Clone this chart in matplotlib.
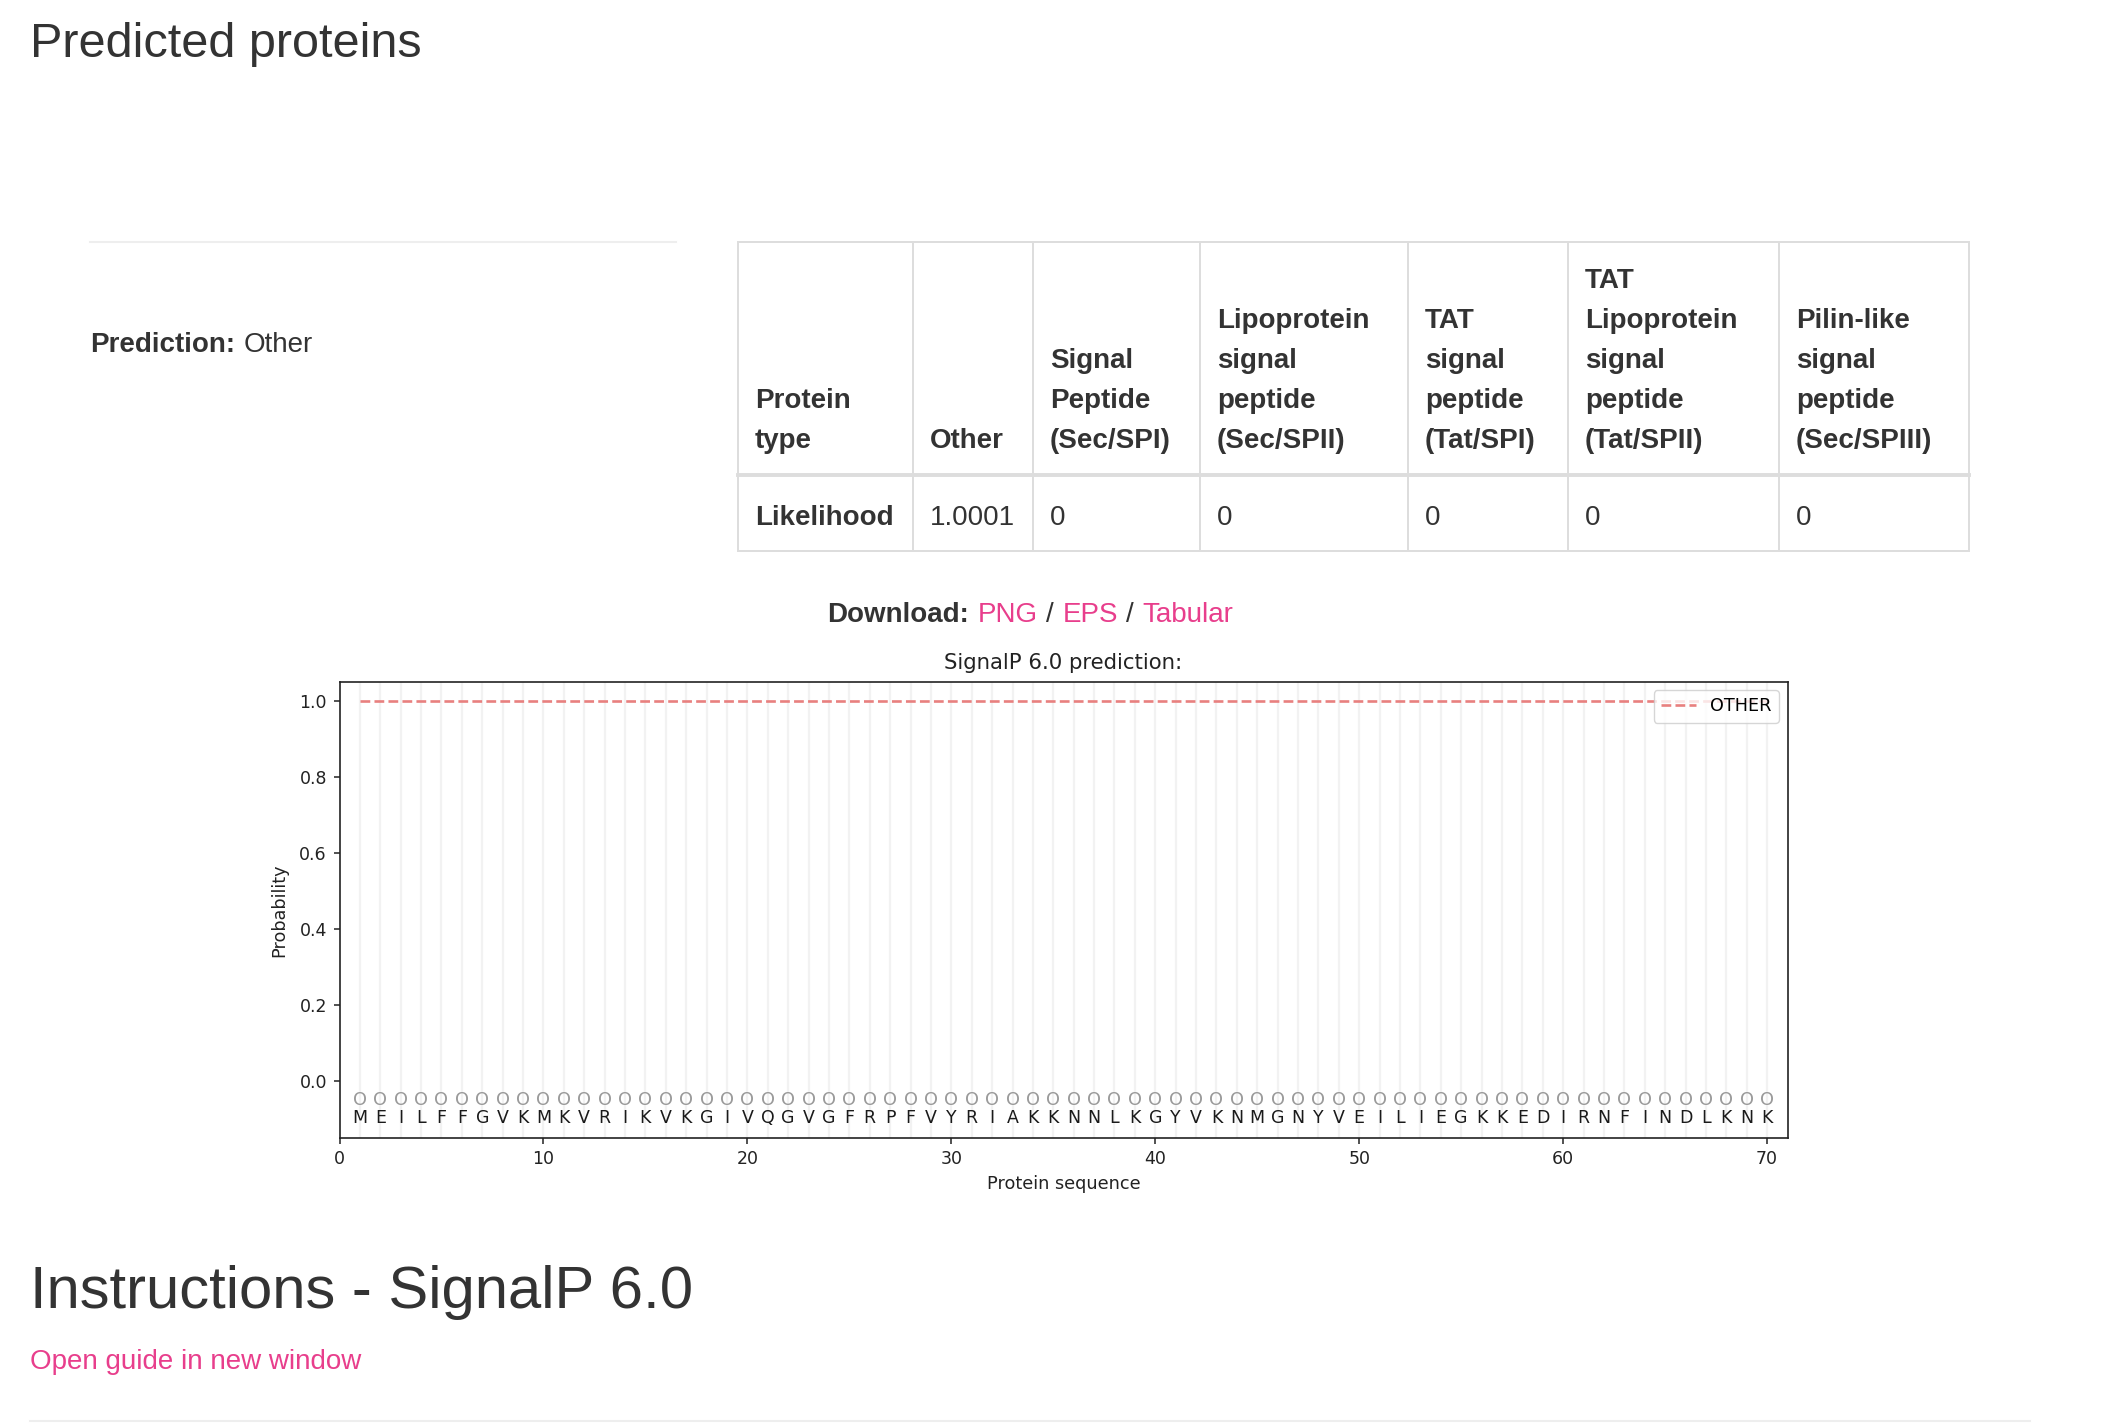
import numpy as np
import matplotlib
matplotlib.use("Agg")
import matplotlib.pyplot as plt

# ---- values ----
sequence = "MEILFFGVKMKVRIKVKGIVQGVGFRPFVYRIAKKNNLKGYVKNMGNYVEILIEGKKEDIRNFINDLKNK"
region_labels = "OOOOOOOOOOOOOOOOOOOOOOOOOOOOOOOOOOOOOOOOOOOOOOOOOOOOOOOOOOOOOOOOOOOOOO"
prob_other = [1.0, 1.0, 1.0, 1.0, 1.0, 1.0, 1.0, 1.0, 1.0, 1.0,
              1.0, 1.0, 1.0, 1.0, 1.0, 1.0, 1.0, 1.0, 1.0, 1.0,
              1.0, 1.0, 1.0, 1.0, 1.0, 1.0, 1.0, 1.0, 1.0, 1.0,
              1.0, 1.0, 1.0, 1.0, 1.0, 1.0, 1.0, 1.0, 1.0, 1.0,
              1.0, 1.0, 1.0, 1.0, 1.0, 1.0, 1.0, 1.0, 1.0, 1.0,
              1.0, 1.0, 1.0, 1.0, 1.0, 1.0, 1.0, 1.0, 1.0, 1.0,
              1.0, 1.0, 1.0, 1.0, 1.0, 1.0, 1.0, 1.0, 1.0, 1.0]
series_name = "OTHER"
prediction = "Other"

col_headers = [
    ["Protein", "type"],
    ["Other"],
    ["Signal", "Peptide", "(Sec/SPI)"],
    ["Lipoprotein", "signal", "peptide", "(Sec/SPII)"],
    ["TAT", "signal", "peptide", "(Tat/SPI)"],
    ["TAT", "Lipoprotein", "signal", "peptide", "(Tat/SPII)"],
    ["Pilin-like", "signal", "peptide", "(Sec/SPIII)"],
]
row_label = "Likelihood"
likelihoods = ["1.0001", "0", "0", "0", "0", "0"]
download_links = ["PNG", "EPS", "Tabular"]

W, H = 2112, 1424
TXT = "#333333"
LINK = "#e83e8c"
BORDER = "#dddddd"
PAGE_FONT = ["Liberation Sans", "DejaVu Sans"]

fig = plt.figure(figsize=(W / 100, H / 100), dpi=100)
fig.patch.set_facecolor("white")

# page layer in pixel coordinates
page = fig.add_axes([0, 0, 1, 1])
page.set_xlim(0, W)
page.set_ylim(H, 0)
page.axis("off")


def ptext(x, y, s, size=20, weight="normal", color=TXT, **kw):
    page.text(x, y, s, fontsize=size, fontweight=weight, color=color,
              family=PAGE_FONT, va="baseline", ha="left", **kw)


ptext(30, 57, "Predicted proteins", size=35)
page.plot([90, 676], [242, 242], color="#eeeeee", lw=1.5)

ptext(90, 352, "Prediction:", weight="bold")
ptext(244, 352, prediction)

# table
col_x = [738, 913, 1033, 1200, 1408, 1568, 1779, 1969]
tbl_top, head_bot, tbl_bot = 242, 475, 551
for x in col_x:
    page.plot([x, x], [tbl_top, tbl_bot], color=BORDER, lw=1.4)
page.plot([col_x[0], col_x[-1]], [tbl_top, tbl_top], color=BORDER, lw=1.4)
page.plot([col_x[0], col_x[-1]], [head_bot, head_bot], color=BORDER, lw=2.8)
page.plot([col_x[0], col_x[-1]], [tbl_bot, tbl_bot], color=BORDER, lw=1.4)

last_base = 448
line_h = 39.9
for j, lines in enumerate(col_headers):
    n = len(lines)
    for i, ln in enumerate(lines):
        ptext(col_x[j] + 17, last_base - line_h * (n - 1 - i), ln, weight="bold")

ptext(col_x[0] + 17, 525, row_label, weight="bold")
for j, v in enumerate(likelihoods):
    ptext(col_x[j + 1] + 17, 525, v)

# download line
ptext(827, 622, "Download:", weight="bold")
link_x = [978, 1063, 1142]
sep_x = [1046, 1126]
for k, lk in enumerate(download_links):
    ptext(link_x[k], 622, lk, color=LINK)
for sx in sep_x:
    ptext(sx, 622, "/")

ptext(30, 1308, "Instructions - SignalP 6.0", size=43)
ptext(30, 1369, "Open guide in new window", color=LINK)
page.plot([30, 2030], [1421, 1421], color="#eeeeee", lw=1.5)

# ---- the SignalP plot ----
ax = fig.add_axes([339.5 / W, 1 - 1138 / H, 1448 / W, 456.4 / H])
positions = np.arange(1, len(sequence) + 1)
for p in positions:
    ax.axvline(p, color="#f2f2f2", lw=1.6, zorder=0)
ax.plot(positions, prob_other, ls="--", color="#e8807f", lw=1.9,
        label=series_name, zorder=2)
for p, aa, lab in zip(positions, sequence, region_labels):
    ax.text(p, -0.050, lab, ha="center", va="center", fontsize=12.8,
            color="#9a9a9a")
    ax.text(p, -0.098, aa, ha="center", va="center", fontsize=12.5,
            color="#1a1a1a")

ax.set_xlim(0, 71)
ax.set_ylim(-0.15, 1.05)
ax.set_xticks(range(0, 71, 10))
ax.set_yticks([0.0, 0.2, 0.4, 0.6, 0.8, 1.0])
ax.tick_params(labelsize=12.5, length=4.5, width=1.1, pad=4.5, colors="#222222")
for sp in ax.spines.values():
    sp.set_linewidth(1.2)
    sp.set_color("#222222")
ax.set_title("SignalP 6.0 prediction:", fontsize=15.3, pad=9, color="#222222")
ax.set_xlabel("Protein sequence", fontsize=12.7, labelpad=5, color="#222222")
ax.set_ylabel("Probability", fontsize=12.7, labelpad=8, color="#222222")
ax.legend(loc="upper right", fontsize=12.7)

fig.savefig("out.png", dpi=100, facecolor="white")
